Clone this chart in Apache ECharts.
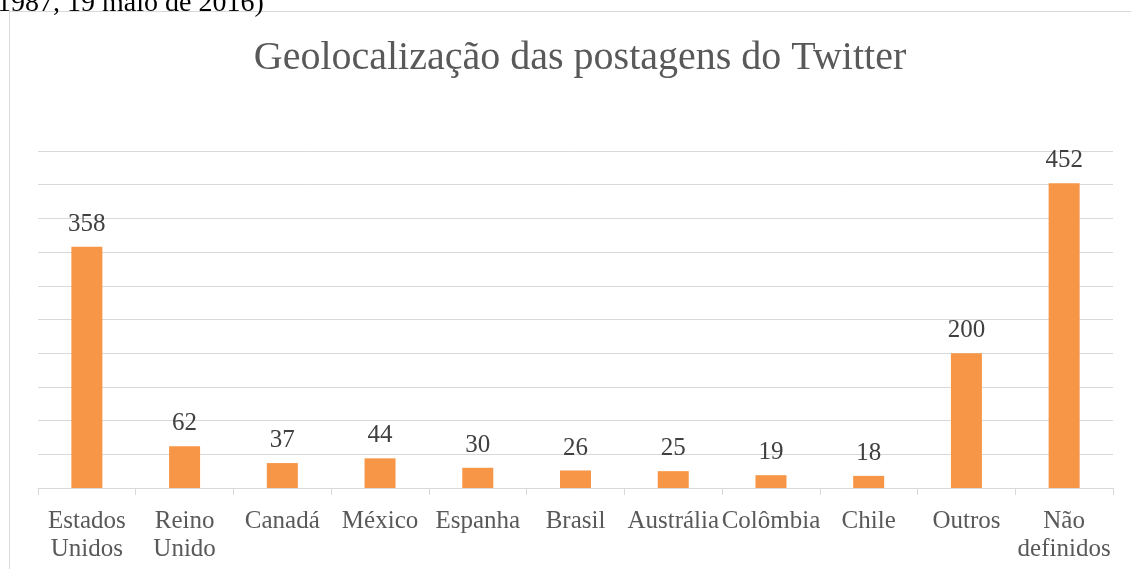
<!DOCTYPE html>
<html>
<head>
<meta charset="utf-8">
<script src="https://cdn.jsdelivr.net/npm/echarts@6/dist/echarts.min.js"></script>
<style>
  html, body { margin: 0; padding: 0; background: #fff; }
  #main { width: 1131px; height: 569px; }
</style>
</head>
<body>
<div id="main"></div>
<script>
// categorias e valores
var paises = ['Estados Unidos', 'Reino Unido', 'Canadá', 'México', 'Espanha', 'Brasil',
  'Austrália', 'Colômbia', 'Chile', 'Outros', 'Não definidos'];
var postagens = [358, 62, 37, 44, 30, 26, 25, 19, 18, 200, 452];

var fonte = '"Liberation Serif", serif';

var myChart = echarts.init(document.getElementById('main'));
var option = {
  backgroundColor: '#fff',
  animation: false,
  title: {
    text: 'Geolocalização das postagens do Twitter',
    left: 575,
    top: 33,
    textAlign: 'center',
    textStyle: { fontFamily: fonte, fontSize: 40, fontWeight: 'normal', color: '#595959' }
  },
  grid: { left: 38, right: 18, top: 151, bottom: 81 },
  graphic: [
    {
      type: 'rect',
      shape: { x: 9.5, y: 11.5, width: 1140, height: 580 },
      style: { fill: 'none', stroke: '#d9d9d9', lineWidth: 1 },
      silent: true
    },
    {
      type: 'text',
      left: -3,
      top: -10,
      style: { text: '1987, 19 maio de 2016)', fontFamily: fonte, fontSize: 28, fill: '#000' },
      silent: true
    }
  ],
  xAxis: {
    type: 'category',
    data: paises,
    axisLine: { lineStyle: { color: '#d9d9d9', width: 1 } },
    axisTick: { show: true, length: 7, lineStyle: { color: '#d9d9d9' } },
    axisLabel: {
      interval: 0,
      margin: 19,
      color: '#595959',
      fontFamily: fonte,
      fontSize: 25,
      lineHeight: 28,
      formatter: function (v) {
        //quebra só os nomes compostos
        return v.replace(' ', '\n');
      }
    }
  },
  yAxis: {
    type: 'value',
    min: 0,
    max: 500,
    interval: 50,
    axisLabel: { show: false },
    axisLine: { show: false },
    axisTick: { show: false },
    splitLine: { lineStyle: { color: '#d9d9d9', width: 1 } }
  },
  series: [{
    type: 'bar',
    data: postagens,
    barWidth: 31,
    itemStyle: { color: '#F79646' },
    label: {
      show: true,
      position: 'top',
      distance: 10,
      color: '#404040',
      fontFamily: fonte,
      fontSize: 25
    }
  }]
};
myChart.setOption(option);
</script>
</body>
</html>
